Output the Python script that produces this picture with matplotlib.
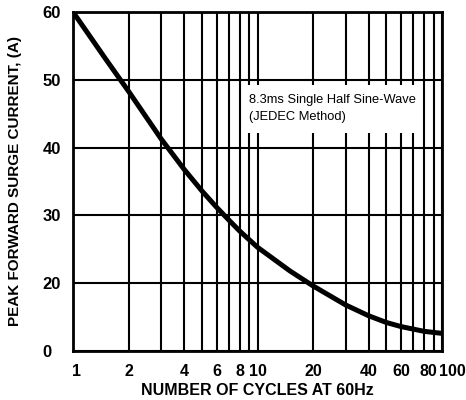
import numpy as np
import matplotlib
matplotlib.use('Agg')
import matplotlib.pyplot as plt
from matplotlib.patches import Rectangle
from matplotlib.ticker import FixedLocator, FixedFormatter, NullLocator
from matplotlib.transforms import ScaledTranslation

# values
cycles = [1, 1.5, 2, 3, 4, 5, 6, 7, 8, 10, 15, 20, 30, 40, 50, 60, 80, 100]
surge = [60, 53.1, 48.3, 41.3, 36.8, 33.6, 31.2, 29.3, 27.7, 25.3, 21.8, 19.2,
         13.6, 10.4, 8.4, 7.2, 5.8, 5.2]

x_grid = [1, 2, 3, 4, 5, 6, 7, 8, 9, 10, 20, 30, 40, 50, 60, 70, 80, 90, 100]
x_ticks = [1, 2, 4, 6, 8, 10, 20, 40, 60, 80, 100]
x_labels = ['1', '2', '4', '6', '8', '10', '20', '40', '60', '80', '100']
y_ticks = [0, 20, 30, 40, 50, 60]
y_labels = ['0', '20', '30', '40', '50', '60']

note = '8.3ms Single Half Sine-Wave\n(JEDEC Method)'


def fwd(y):
    # bottom band 0..20 is squeezed into one grid cell
    y = np.asarray(y, dtype=float)
    return np.where(y < 20, 10 + y / 2.0, y)


def inv(p):
    p = np.asarray(p, dtype=float)
    return np.where(p < 20, (p - 10) * 2.0, p)


plt.rcParams['font.family'] = ['Liberation Sans', 'DejaVu Sans']

fig = plt.figure(figsize=(4.66, 4.0), dpi=100)
ax = fig.add_axes([0.1567, 0.1225, 0.7918, 0.8475])

ax.set_xscale('log')
ax.set_yscale('function', functions=(fwd, inv))
ax.set_xlim(1, 100)
ax.set_ylim(0, 60)

# grid
for gx in x_grid:
    ax.axvline(gx, color='black', lw=1.5, zorder=1)
for gy in y_ticks:
    ax.axhline(gy, color='black', lw=1.5, zorder=1)

# note box
ax.add_patch(Rectangle((0.469, 0.643), 0.474, 0.142, transform=ax.transAxes,
                       facecolor='white', edgecolor='none', zorder=2))
ax.text(0.476, 0.758, note, transform=ax.transAxes, fontsize=9.3,
        va='top', ha='left', linespacing=1.55, zorder=3)

ax.plot(cycles, surge, color='black', lw=3.6, solid_capstyle='butt', zorder=4)

ax.xaxis.set_major_locator(FixedLocator(x_ticks))
ax.xaxis.set_major_formatter(FixedFormatter(x_labels))
ax.xaxis.set_minor_locator(NullLocator())
ax.yaxis.set_major_locator(FixedLocator(y_ticks))
ax.yaxis.set_major_formatter(FixedFormatter(y_labels))
ax.yaxis.set_minor_locator(NullLocator())

ax.tick_params(axis='x', length=0, labelsize=11.5, pad=9)
ax.tick_params(axis='y', length=0, labelsize=12, pad=22)
for lab in ax.get_xticklabels() + ax.get_yticklabels():
    lab.set_fontweight('bold')
for lab in ax.get_yticklabels():
    lab.set_horizontalalignment('left')

# the last two x labels sit squeezed together, nudge them right a little
xt = ax.xaxis.get_major_ticks()
for tk, dx in [(xt[0], 3), (xt[-2], 4), (xt[-1], 10)]:
    tk.label1.set_transform(tk.label1.get_transform() +
                            ScaledTranslation(dx / 100.0, 0, fig.dpi_scale_trans))

for s in ax.spines.values():
    s.set_linewidth(2)
    s.set_zorder(5)

ax.set_xlabel('NUMBER OF CYCLES AT 60Hz', fontsize=11.5, fontweight='bold', labelpad=3)
ax.set_ylabel('PEAK FORWARD SURGE CURRENT, (A)', fontsize=11, fontweight='bold', labelpad=15)

fig.savefig('out.png', dpi=100, facecolor='white')
